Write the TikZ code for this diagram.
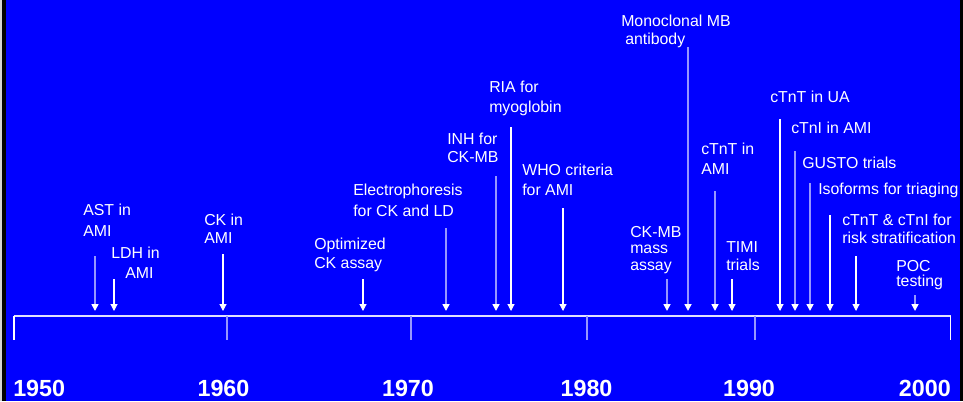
\documentclass[tikz,border=0pt]{standalone}
\usepackage{fontspec}
\setmainfont{Liberation Sans}
\usetikzlibrary{arrows.meta}
\definecolor{bgblue}{RGB}{0,0,255}
\definecolor{lav}{RGB}{150,150,255}
\definecolor{axisc}{RGB}{225,225,255}
% stacked label lines: #1 = baseline distance, #2 = rows separated by \cr
\newcommand\evlines[2]{\vtop{\fontsize{11.9pt}{#1}\selectfont\lineskiplimit=-20pt\halign{##\hfil\cr#2\crcr}}}
\newcommand\evlinesc[2]{\vtop{\fontsize{11.9pt}{#1}\selectfont\lineskiplimit=-20pt\halign{\hfil##\hfil\cr#2\crcr}}}
\tikzset{
  evlabel/.style={anchor=base west, inner sep=0pt, text=white, font=\fontsize{11.9pt}{14pt}\selectfont},
  yearlabel/.style={inner sep=0pt, text=white, font=\fontsize{17.5pt}{21pt}\selectfont\bfseries},
  evlight/.style={draw=lav, line width=1.2pt, -{Triangle[width=5.25pt,length=5.25pt,color=white]}},
  evwhite/.style={draw=white, line width=0.8pt, -{Triangle[width=5.25pt,length=5.25pt,color=white]}},
  axisline/.style={draw=axisc, line width=0.9pt},
  tickwhite/.style={draw=white, line width=0.9pt},
  ticklight/.style={draw=lav, line width=1.2pt}
}
\begin{document}
\begin{tikzpicture}[x=0.75pt, y=-0.75pt]
\useasboundingbox (0,0) rectangle (963,401);
% frame and background
\fill[black] (0,0) rectangle (963,401);
\fill[gray!35] (0,0) rectangle (2,401);
\fill[bgblue] (6,0) rectangle (960,401);

% time axis
\coordinate (ax-l) at (14,316);
\coordinate (ax-r) at (951,316);
\draw[axisline] (ax-l) -- (ax-r);

% ticks and years
\coordinate (t1950a) at (14,316);   \coordinate (t1950b) at (14,340);
\coordinate (t1960a) at (227,316);  \coordinate (t1960b) at (227,340);
\coordinate (t1970a) at (411,316);  \coordinate (t1970b) at (411,340);
\coordinate (t1980a) at (587,316);  \coordinate (t1980b) at (587,340);
\coordinate (t1990a) at (755,316);  \coordinate (t1990b) at (755,340);
\coordinate (t2000a) at (950.5,316);\coordinate (t2000b) at (950.5,340);
\draw[tickwhite] (t1950a) -- (t1950b);
\draw[ticklight] (t1960a) -- (t1960b);
\draw[ticklight] (t1970a) -- (t1970b);
\draw[ticklight] (t1980a) -- (t1980b);
\draw[ticklight] (t1990a) -- (t1990b);
\draw[tickwhite] (t2000a) -- (t2000b);

\node[yearlabel, anchor=base west] (y1950) at (13,396) {1950};
\node[yearlabel, anchor=base] (y1960) at (223.5,396) {1960};
\node[yearlabel, anchor=base] (y1970) at (408,396) {1970};
\node[yearlabel, anchor=base] (y1980) at (586.5,396) {1980};
\node[yearlabel, anchor=base] (y1990) at (749,396) {1990};
\node[yearlabel, anchor=base east] (y2000) at (951,396) {2000};

% event pointers (light shafts)
\foreach \n/\x/\y in {ast/95/256, elp/446/228, inh/496/176, ckmb/667/279,
                      mono/688/47, tnt/715/191, tni/795/151, gusto/810/183, poc/915/295} {
  \coordinate (\n-top) at (\x,\y);
  \coordinate (\n-tip) at (\x,311);
  \draw[evlight] (\n-top) -- (\n-tip);
}
% event pointers (white shafts)
\foreach \n/\x/\y in {ldh/114/279, ck/223/254, opt/363/279, ria/511/127, who/563/208,
                      timi/732/279, tntua/780/119, iso/830/215, risk/856/256} {
  \coordinate (\n-top) at (\x,\y);
  \coordinate (\n-tip) at (\x,311);
  \draw[evwhite] (\n-top) -- (\n-tip);
}

% event labels
\node[evlabel] (l-ast)   at (83,215)  {\evlines{15.75pt}{AST in\cr AMI}};
\node[evlabel] (l-ldh)   at (111,258) {\evlinesc{15pt}{LDH in\cr\hspace*{6pt}AMI}};
\node[evlabel] (l-ck)    at (204,225) {\evlines{13.5pt}{CK in\cr AMI}};
\node[evlabel] (l-opt)   at (314,249) {\evlines{14.6pt}{Optimized\cr CK assay}};
\node[evlabel] (l-elp)   at (353,195) {\evlines{15.75pt}{Electrophoresis\cr for CK and LD}};
\node[evlabel] (l-inh)   at (447,144) {\evlines{13.5pt}{INH for\cr CK-MB}};
\node[evlabel] (l-ria)   at (489,92)  {\evlines{15pt}{RIA for\cr myoglobin}};
\node[evlabel] (l-who)   at (522,175) {\evlines{15pt}{WHO criteria\cr for AMI}};
\node[evlabel] (l-mono)  at (621,26)  {\evlines{13.5pt}{Monoclonal MB\cr\hspace*{3pt}antibody}};
\node[evlabel] (l-ckmb)  at (630,237) {\evlines{12.4pt}{CK-MB\cr mass\cr assay}};
\node[evlabel] (l-tnt)   at (701,154) {\evlines{15pt}{cTnT in\cr AMI}};
\node[evlabel] (l-timi)  at (726,252) {\evlines{13.5pt}{TIMI\cr trials}};
\node[evlabel] (l-tntua) at (770,102) {cTnT in UA};
\node[evlabel] (l-tni)   at (791,133) {cTnI in AMI};
\node[evlabel] (l-gusto) at (802,168) {GUSTO trials};
\node[evlabel] (l-iso)   at (818,194) {Isoforms for triaging};
\node[evlabel] (l-risk)  at (842,225) {\evlines{13.5pt}{cTnT \& cTnI for\cr risk stratification}};
\node[evlabel] (l-poc)   at (896,271) {\evlines{11.6pt}{POC\cr testing}};
\end{tikzpicture}
\end{document}
